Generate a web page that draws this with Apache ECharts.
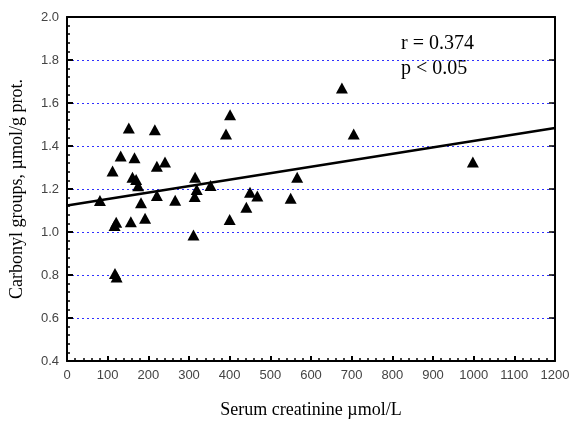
<!DOCTYPE html>
<html><head><meta charset="utf-8">
<script src="https://cdn.jsdelivr.net/npm/echarts@6/dist/echarts.min.js"></script>
<style>html,body{margin:0;padding:0;background:#fff}#c{width:570px;height:421px}</style>
</head><body><div id="c"></div>
<script>
const creatinine = [81,117,121,112,118,122,132,152,157,161,166,170,175,182,192,216,221,221,241,266,311,315,319,314,353,391,401,400,441,450,468,550,566,676,705,998];
const carbonyl = [1.147,1.03,1.045,1.284,0.807,0.791,1.354,1.484,1.048,1.255,1.345,1.244,1.215,1.136,1.064,1.476,1.306,1.170,1.326,1.148,0.986,1.255,1.198,1.165,1.216,1.456,1.545,1.058,1.115,1.185,1.167,1.157,1.255,1.67,1.456,1.326];
const fitX = [0,1200];
const fitY = [1.123,1.484];
const statText = ['r = 0.374','p < 0.05'];

const chart = echarts.init(document.getElementById('c'));
const axisLine = {show:true, onZero:false, lineStyle:{color:'#000', width:2}};
chart.setOption({
  animation:false,
  grid:{left:67, right:15, top:17, bottom:60, outerBoundsMode:'none', containLabel:false},
  xAxis:[{
    type:'value', min:0, max:1200, interval:100, position:'bottom',
    name:'Serum creatinine \u00b5mol/L', nameLocation:'middle', nameGap:40,
    nameTextStyle:{fontFamily:'Liberation Serif', fontSize:18, color:'#000'},
    axisLine:axisLine,
    axisTick:{show:true, inside:true, length:5, lineStyle:{color:'#000', width:2}},
    minorTick:{show:true, splitNumber:5, length:3, lineStyle:{color:'#000', width:1.5}},
    axisLabel:{fontFamily:'Liberation Sans', fontSize:13, color:'#444', margin:8, formatter:v=>String(v)},
    splitLine:{show:false}
  },{
    type:'value', min:0, max:1200, position:'top',
    axisLine:axisLine, axisTick:{show:false}, axisLabel:{show:false}, splitLine:{show:false}
  }],
  yAxis:[{
    type:'value', min:0.4, max:2.0, interval:0.2, position:'left',
    name:'Carbonyl groups, \u00b5mol/g prot.', nameLocation:'middle', nameGap:41,
    nameTextStyle:{fontFamily:'Liberation Serif', fontSize:18, color:'#000'},
    axisLine:axisLine,
    axisTick:{show:true, inside:true, length:6, lineStyle:{color:'#000', width:2}},
    minorTick:{show:true, splitNumber:5, length:3, lineStyle:{color:'#000', width:1.5}},
    axisLabel:{fontFamily:'Liberation Sans', fontSize:13, color:'#444', margin:8, formatter:v=>v.toFixed(1)},
    splitLine:{show:true, lineStyle:{color:'#3030ff', type:[2,3], width:1}}
  },{
    type:'value', min:0.4, max:2.0, interval:0.2, position:'right',
    axisLine:axisLine,
    axisTick:{show:true, inside:true, length:6, lineStyle:{color:'#000', width:1.5}},
    axisLabel:{show:false}, splitLine:{show:false}
  }],
  series:[{
    type:'scatter', symbol:'triangle', symbolSize:[12,11],
    itemStyle:{color:'#000', opacity:1},
    data: creatinine.map((x,i)=>[x, carbonyl[i]])
  },{
    type:'line', symbol:'none', lineStyle:{color:'#000', width:2.5},
    data: fitX.map((x,i)=>[x, fitY[i]])
  }],
  graphic:[{
    type:'text', left:401, top:31,
    style:{text:statText.join('\n'), font:'20px "Liberation Serif"', fill:'#000', lineHeight:25}
  }]
});
</script></body></html>
